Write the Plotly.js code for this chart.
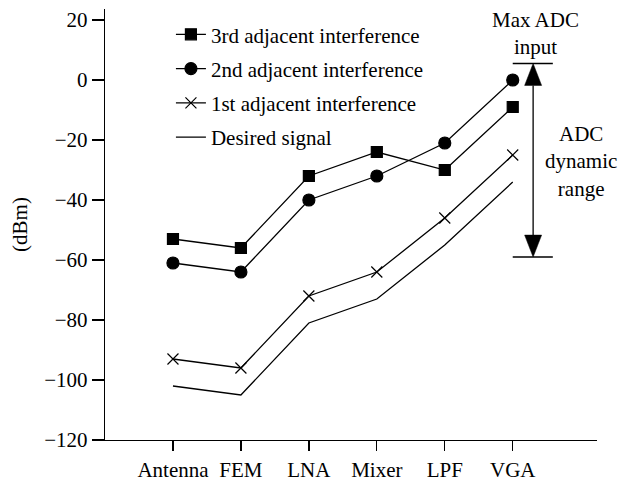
<!DOCTYPE html>
<html>
<head>
<meta charset="utf-8">
<script src="https://cdn.plot.ly/plotly-3.0.1.min.js"></script>
<style>html,body{margin:0;padding:0;background:#fff;}#chart{width:628px;height:482px;}</style>
</head>
<body>
<div id="chart"></div>
<script>
const categories = ["Antenna", "FEM", "LNA", "Mixer", "LPF", "VGA"];
const thirdAdjacent = [-53, -56, -32, -24, -30, -9];
const secondAdjacent = [-61, -64, -40, -32, -21, 0];
const firstAdjacent = [-93, -96, -72, -64, -46, -25];
const desiredSignal = [-102, -105, -81, -73, -55, -34];
const seriesNames = ["3rd adjacent interference", "2nd adjacent interference", "1st adjacent interference", "Desired signal"];
const yTicks = [20, 0, -20, -40, -60, -80, -100, -120];
const adcMax = 5.5;
const adcMin = -59;

const xIdx = categories.map((c, i) => i);
const font = "Liberation Serif, Times New Roman, serif";
const black = "#000";

function tr(y, name, symbol, size, group) {
  const t = {
    x: xIdx, y: y, name: name, type: "scatter",
    mode: symbol ? "lines+markers" : "lines",
    line: {color: black, width: 1.3},
    legendgroup: group
  };
  if (symbol) t.marker = {symbol: symbol, size: size, color: black, line: {color: black, width: 1.2}};
  return t;
}

const data = [
  tr(thirdAdjacent, seriesNames[0], "square", 11, "a"),
  tr(secondAdjacent, seriesNames[1], "circle", 12, "b"),
  tr(firstAdjacent, seriesNames[2], "x-thin", 11, "c"),
  tr(desiredSignal, seriesNames[3], null, 0, "d")
];

// arrow geometry (data units)
const arrowX = 5.3, capX0 = 5.0, capX1 = 5.59;
const headH = 7.3, headW = 0.125;
const shapes = [
  {type: "line", xref: "x", yref: "y", x0: capX0, x1: capX1, y0: adcMax, y1: adcMax, line: {color: black, width: 1.3}},
  {type: "line", xref: "x", yref: "y", x0: capX0, x1: capX1, y0: adcMin, y1: adcMin, line: {color: black, width: 1.3}},
  {type: "line", xref: "x", yref: "y", x0: arrowX, x1: arrowX, y0: adcMin + headH, y1: adcMax - headH, line: {color: black, width: 1.3}},
  {type: "path", xref: "x", yref: "y", fillcolor: black, line: {color: black, width: 0.5},
   path: `M ${arrowX} ${adcMax} L ${arrowX - headW} ${adcMax - headH} L ${arrowX + headW} ${adcMax - headH} Z`},
  {type: "path", xref: "x", yref: "y", fillcolor: black, line: {color: black, width: 0.5},
   path: `M ${arrowX} ${adcMin} L ${arrowX - headW} ${adcMin + headH} L ${arrowX + headW} ${adcMin + headH} Z`}
];

function note(text, x, y) {
  return {text: text, x: x, y: y, xref: "x", yref: "y", showarrow: false, xanchor: "center", yanchor: "middle",
          align: "center", font: {family: font, size: 21, color: black}};
}
const annotations = [
  note("Max ADC<br>input", 5.34, 15.6),
  note("ADC<br>dynamic<br>range", 6.01, -27.3)
];

const layout = {
  width: 628, height: 482,
  margin: {l: 105, r: 31, t: 9, b: 42},
  paper_bgcolor: "#fff", plot_bgcolor: "#fff",
  font: {family: font, size: 21, color: black},
  showlegend: true,
  legend: {x: 0.134, y: 0.988, xanchor: "left", yanchor: "top", bgcolor: "rgba(0,0,0,0)",
           traceorder: "grouped", tracegroupgap: 4, itemwidth: 30,
           font: {family: font, size: 21, color: black}},
  xaxis: {
    range: [-1, 6.24], tickmode: "array", tickvals: xIdx, ticktext: categories,
    showgrid: false, zeroline: false, showline: true, linecolor: black, linewidth: 1.3,
    ticks: "outside", ticklen: 10, tickwidth: 1.3, tickcolor: black,
    tickfont: {family: font, size: 21, color: black}, fixedrange: true
  },
  yaxis: {
    range: [-120, 23.67], tickmode: "array", tickvals: yTicks,
    showgrid: false, zeroline: false, showline: true, linecolor: black, linewidth: 1.3,
    ticks: "outside", ticklen: 12, tickwidth: 1.3, tickcolor: black,
    tickfont: {family: font, size: 21, color: black},
    title: {text: "(dBm)", font: {family: font, size: 21, color: black}, standoff: 10},
    fixedrange: true
  },
  shapes: shapes,
  annotations: annotations
};

Plotly.newPlot("chart", data, layout, {displayModeBar: false, staticPlot: true});
</script>
</body>
</html>
